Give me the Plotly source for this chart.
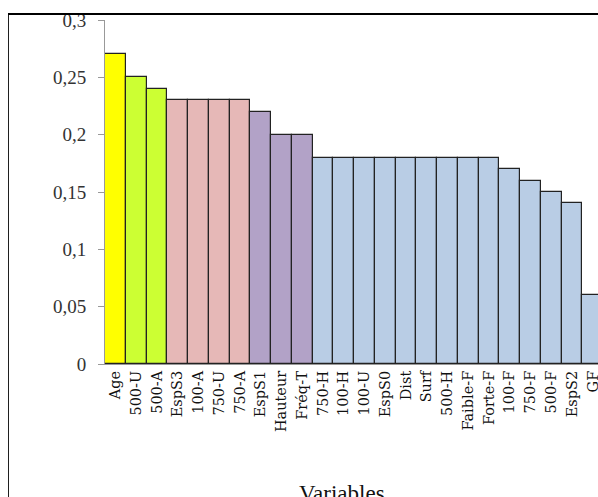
import plotly.graph_objects as go

variables = ['Age', '500-U', '500-A', 'EspS3', '100-A', '750-U', '750-A', 'EspS1', 'Hauteur', 'Fréq-T',
             '750-H', '100-H', '100-U', 'EspS0', 'Dist', 'Surf', '500-H', 'Faible-F', 'Forte-F',
             '100-F', '750-F', '500-F', 'EspS2', 'GF']
values = [0.27, 0.25, 0.24, 0.23, 0.23, 0.23, 0.23, 0.22, 0.20, 0.20,
          0.18, 0.18, 0.18, 0.18, 0.18, 0.18, 0.18, 0.18, 0.18,
          0.17, 0.16, 0.15, 0.14, 0.06]
groups = ['a', 'b', 'b', 'c', 'c', 'c', 'c', 'd', 'd', 'd',
          'e', 'e', 'e', 'e', 'e', 'e', 'e', 'e', 'e',
          'e', 'e', 'e', 'e', 'e']

group_colors = {'a': '#ffff00', 'b': '#ccff33', 'c': '#e6b8b7', 'd': '#b2a2c7', 'e': '#b9cde5'}

fig = go.Figure(go.Bar(x=variables,
                       y=values,
                       marker=dict(color=[group_colors[g] for g in groups],
                                   line=dict(color='#222222', width=1.2))))

# page body has an 8px margin, so the figure is a bit smaller than the window
fig.update_layout(width=590, height=489,
                  margin=dict(l=97, r=0, t=12, b=133),
                  paper_bgcolor='white', plot_bgcolor='white',
                  bargap=0, showlegend=False,
                  separators=', ',
                  font=dict(family='Liberation Serif', color='#000000'))

fig.update_xaxes(range=[-0.5, 23.25],
                 tickangle=-90,
                 tickfont=dict(size=14.5, family='DejaVu Serif', color='#111111'),
                 showline=True, linecolor='#999999', linewidth=1,
                 ticks='', showgrid=False, automargin=False)
fig.update_yaxes(range=[0, 0.3], dtick=0.05, tick0=0,
                 tickfont=dict(size=19, family='Liberation Serif', color='#333333'),
                 showline=True, linecolor='#999999', linewidth=1,
                 ticks='outside', ticklen=6, tickcolor='#999999',
                 ticklabelstandoff=8,
                 showgrid=False, zeroline=False, automargin=False)

# frame around the chart (cut by the window on the right and bottom)
fig.add_shape(type='line', xref='paper', yref='paper', x0=-0.197, x1=-0.197, y0=-1, y1=1.0174,
              line=dict(color='black', width=2))
fig.add_shape(type='line', xref='paper', yref='paper', x0=-0.197, x1=1.2, y0=1.0174, y1=1.0174,
              line=dict(color='black', width=2))

fig.add_annotation(text='Variables', xref='paper', yref='paper', x=0.481, y=-0.375,
                   showarrow=False, yanchor='middle',
                   font=dict(size=23, family='Liberation Serif', color='#111111'))

fig.write_html("out.html",
               post_script="document.documentElement.style.overflow='hidden';"
                           "document.body.style.overflow='hidden';"
                           "document.body.style.marginRight='0';")
